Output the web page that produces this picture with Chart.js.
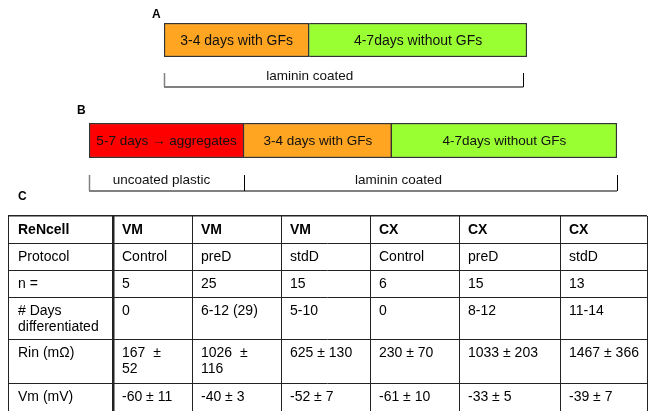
<!DOCTYPE html>
<html>
<head>
<meta charset="utf-8">
<script src="https://cdn.jsdelivr.net/npm/chart.js@4.4.1/dist/chart.umd.min.js"></script>
<style>
    body { margin: 0; background: #fff; width: 649px; height: 411px; overflow: hidden; position: relative; }
    canvas { position: absolute; }
    #timelineA { left: 140px; top: 0; }
    #timelineB { left: 60px; top: 95px; }
    #protocolTable { left: 0; top: 190px; }
</style>
</head>
<body>
<canvas id="timelineA" width="400" height="95"></canvas>
<canvas id="timelineB" width="589" height="100"></canvas>
<canvas id="protocolTable" width="649" height="221"></canvas>
<script>
// Panel A - standard differentiation
const stagesA = ['3-4 days with GFs', '4-7days without GFs'];
const stageEdgesA = [0, 4, 10];
const coatingsA = ['laminin coated'];
const coatingEdgesA = [0, 9.9];

// Panel B - pre-differentiation
const stagesB = ['5-7 days \u2192 aggregates', '3-4 days with GFs', '4-7days without GFs'];
const stageEdgesB = [0, 4.2, 8.2, 14.3];
const coatingsB = ['uncoated plastic', 'laminin coated'];
const coatingEdgesB = [0, 4.2, 14.3];

// Panel C - table
const rowLabels = ['ReNcell', 'Protocol', 'n =', '# Days\ndifferentiated', 'Rin (m\u03A9)', 'Vm (mV)'];
const cellLines = ['VM', 'VM', 'VM', 'CX', 'CX', 'CX'];
const protocols = ['Control', 'preD', 'stdD', 'Control', 'preD', 'stdD'];
const nCells = [5, 25, 15, 6, 15, 13];
const daysDifferentiated = ['0', '6-12 (29)', '5-10', '0', '8-12', '11-14'];
const rinMean = [167, 1026, 625, 230, 1033, 1467];
const rinSd = [52, 116, 130, 70, 203, 366];
const vmMean = [-60, -40, -52, -61, -33, -39];
const vmSd = [11, 3, 7, 10, 5, 7];

const FONT = '"Liberation Sans", Arial, sans-serif';
const stageColors = {
    '5-7 days \u2192 aggregates': '#ff0000',
    '3-4 days with GFs': '#ffa521',
    '4-7days without GFs': '#99ff33'
};
// table grid in cell units (columns / rows)
const colEdges = [0, 105, 184, 273, 362, 451, 552, 639];
const rowEdges = [0, 27, 54, 81, 123, 167, 195];
const rinWrapped = [true, true, false, false, false, false];

class FigureRenderer {
    constructor() {
        this.charts = { a: null, b: null, table: null };
    }

    renderAll() {
        this.charts.a = this.renderTimeline('timelineA', stagesA, stageEdgesA, coatingsA, coatingEdgesA, {
            letter: 'A', letterX: 12, letterY: 15, barFont: 14,
            padding: { left: 24, right: 13, top: 23, bottom: 38 },
            tickTop: 16, tickBottom: 30, labelShift: [-34]
        });
        this.charts.b = this.renderTimeline('timelineB', stagesB, stageEdgesB, coatingsB, coatingEdgesB, {
            letter: 'B', letterX: 17, letterY: 16, barFont: 13.5,
            padding: { left: 29, right: 32, top: 28, bottom: 37 },
            tickTop: 17, tickBottom: 33, labelShift: [-5, -32]
        });
        this.charts.table = this.renderTable();
    }

    renderTimeline(canvasId, stages, edges, coatings, coatingEdges, cfg) {
        const ctx = document.getElementById(canvasId).getContext('2d');

        const labelsPlugin = {
            id: 'timelineLabels',
            afterDatasetsDraw(chart) {
                const { ctx, chartArea, scales: { x } } = chart;
                ctx.save();
                ctx.fillStyle = '#111';
                ctx.textAlign = 'center';
                ctx.textBaseline = 'middle';
                ctx.font = `${cfg.barFont}px ${FONT}`;
                chart.data.datasets.forEach((ds, i) => {
                    const bar = chart.getDatasetMeta(i).data[0];
                    ctx.fillText(ds.label, (bar.x + bar.base) / 2, bar.y + 1);
                });

                // coating bracket
                const top = chartArea.bottom + cfg.tickTop;
                const bottom = chartArea.bottom + cfg.tickBottom;
                const first = x.getPixelForValue(coatingEdges[0]);
                const last = x.getPixelForValue(coatingEdges[coatingEdges.length - 1]);
                ctx.strokeStyle = '#808080';
                ctx.lineWidth = 2;
                ctx.beginPath();
                ctx.moveTo(first, bottom);
                ctx.lineTo(last, bottom);
                ctx.stroke();
                coatingEdges.forEach((e, i) => {
                    const px = Math.round(x.getPixelForValue(e)) + 0.5;
                    ctx.strokeStyle = i === 0 ? '#808080' : '#000';
                    ctx.lineWidth = i === 0 ? 1.5 : 1;
                    ctx.beginPath();
                    ctx.moveTo(px, top);
                    ctx.lineTo(px, bottom);
                    ctx.stroke();
                });
                ctx.font = `13.5px ${FONT}`;
                coatings.forEach((name, i) => {
                    const cx = (x.getPixelForValue(coatingEdges[i]) + x.getPixelForValue(coatingEdges[i + 1])) / 2;
                    ctx.fillText(name, cx + cfg.labelShift[i], bottom - 11);
                });

                ctx.font = `bold 12px ${FONT}`;
                ctx.textAlign = 'left';
                ctx.fillStyle = '#000';
                ctx.fillText(cfg.letter, cfg.letterX, cfg.letterY);
                ctx.restore();
            }
        };

        return new Chart(ctx, {
            type: 'bar',
            data: {
                labels: [''],
                datasets: stages.map((name, i) => ({
                    label: name,
                    data: [[edges[i], edges[i + 1]]],
                    backgroundColor: stageColors[name],
                    borderColor: '#333',
                    borderWidth: 1.5,
                    borderSkipped: i === 0 ? false : 'left',
                    grouped: false,
                    barPercentage: 1,
                    categoryPercentage: 1
                }))
            },
            options: {
                indexAxis: 'y',
                responsive: false,
                animation: false,
                layout: { padding: cfg.padding },
                plugins: { legend: { display: false }, tooltip: { enabled: false } },
                scales: {
                    x: { type: 'linear', display: false, min: 0, max: edges[edges.length - 1] },
                    y: { display: false }
                }
            },
            plugins: [labelsPlugin]
        });
    }

    buildRows() {
        return [
            cellLines,
            protocols,
            nCells.map(String),
            daysDifferentiated,
            rinMean.map((m, i) => rinWrapped[i] ? `${m}  \u00B1\n${rinSd[i]}` : `${m} \u00B1 ${rinSd[i]}`),
            vmMean.map((m, i) => `${m} \u00B1 ${vmSd[i]}`)
        ];
    }

    renderTable() {
        const ctx = document.getElementById('protocolTable').getContext('2d');
        const rows = this.buildRows();

        const cellsPlugin = {
            id: 'tableCells',
            afterDraw(chart) {
                const { ctx, scales: { x, y } } = chart;
                ctx.save();
                ctx.fillStyle = '#000';
                ctx.textAlign = 'left';
                ctx.textBaseline = 'middle';
                rows.forEach((row, r) => {
                    ctx.font = `${r === 0 ? 'bold ' : ''}14px ${FONT}`;
                    [rowLabels[r], ...row].forEach((text, c) => {
                        const px = x.getPixelForValue(colEdges[c]) + (c === 0 ? 10 : 9);
                        const py = y.getPixelForValue(rowEdges[r]) + 14;
                        String(text).split('\n').forEach((line, k) => {
                            ctx.fillText(line, px, py + k * 16);
                        });
                    });
                });
                ctx.font = `bold 12px ${FONT}`;
                ctx.fillText('C', 18, 7);
                ctx.restore();
            }
        };

        const gridScale = (edges, max, reverse) => ({
            type: 'linear',
            min: 0,
            max: max,
            reverse: reverse,
            afterBuildTicks: scale => {
                scale.ticks = edges.map(v => ({ value: v }));
            },
            ticks: { display: false },
            border: { display: false },
            grid: {
                drawTicks: false,
                color: '#222',
                lineWidth: c => (reverse ? (c.tick && c.tick.value === 0 ? 1.5 : 1)
                                         : (c.tick && c.tick.value === colEdges[1] ? 2.5 : 1))
            }
        });

        return new Chart(ctx, {
            type: 'scatter',
            data: { datasets: [] },
            options: {
                responsive: false,
                animation: false,
                layout: { padding: { left: 8, right: 2, top: 26, bottom: 0 } },
                plugins: { legend: { display: false }, tooltip: { enabled: false } },
                scales: {
                    x: gridScale(colEdges, colEdges[colEdges.length - 1], false),
                    y: gridScale(rowEdges.slice(0, -1), rowEdges[rowEdges.length - 1], true)
                }
            },
            plugins: [cellsPlugin]
        });
    }
}

new FigureRenderer().renderAll();
</script>
</body>
</html>
